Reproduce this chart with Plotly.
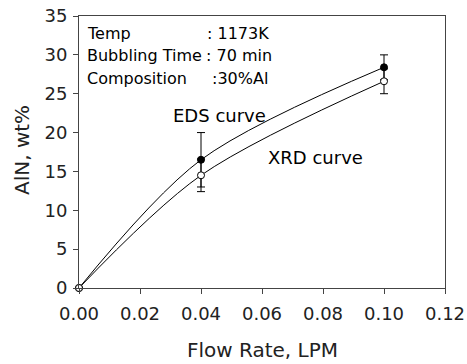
import plotly.graph_objects as go

flow = [0.0, 0.04, 0.10]
eds = [0.0, 16.5, 28.4]
eds_err = [0.0, 3.5, 1.6]
xrd = [0.0, 14.5, 26.6]
xrd_err = [0.0, 2.1, 1.6]
x_ticks = [0.0, 0.02, 0.04, 0.06, 0.08, 0.10, 0.12]
y_ticks = [0, 5, 10, 15, 20, 25, 30, 35]
info_labels = ["Temp", "Bubbling Time", "Composition"]
info_values = [": 1173K", ": 70 min", ":30%Al"]
info_value_x = [0.0413, 0.0410, 0.0431]
x_title = "Flow Rate, LPM"
y_title = "AlN, wt%"

FONT = "DejaVu Sans, sans-serif"
fig = go.Figure()

fig.add_trace(go.Scatter(
    x=flow, y=eds, mode="lines+markers", cliponaxis=False,
    line=dict(color="black", width=1, shape="spline", smoothing=0.9),
    marker=dict(symbol="circle", size=7, color="black", line=dict(color="black", width=1)),
    error_y=dict(type="data", array=eds_err, color="black", thickness=1, width=4),
    showlegend=False))
fig.add_trace(go.Scatter(
    x=flow, y=xrd, mode="lines+markers", cliponaxis=False,
    line=dict(color="black", width=1, shape="spline", smoothing=0.9),
    marker=dict(symbol="circle", size=7, color="white", line=dict(color="black", width=1)),
    error_y=dict(type="data", array=xrd_err, color="black", thickness=1, width=4),
    showlegend=False))

annos = []
rows_y = [32.7, 29.9, 26.95]
for lab, val, vx, yy in zip(info_labels, info_values, info_value_x, rows_y):
    annos.append(dict(x=0.0019, y=yy, text=lab, showarrow=False, xanchor="left", yanchor="middle",
                      font=dict(family=FONT, size=16, color="black")))
    annos.append(dict(x=vx, y=yy, text=val, showarrow=False, xanchor="left", yanchor="middle",
                      font=dict(family=FONT, size=16, color="black")))
annos.append(dict(x=0.0462, y=22.2, text="EDS curve", showarrow=False, xanchor="center", yanchor="middle",
                  font=dict(family=FONT, size=18, color="black")))
annos.append(dict(x=0.0776, y=16.8, text="XRD curve", showarrow=False, xanchor="center", yanchor="middle",
                  font=dict(family=FONT, size=18, color="black")))
annos.append(dict(xref="paper", yref="paper", x=0.5, y=-0.228, text=x_title, showarrow=False,
                  xanchor="center", yanchor="middle", font=dict(family=FONT, size=20, color="#222")))
annos.append(dict(xref="paper", yref="paper", x=-0.156, y=0.507, text=y_title, showarrow=False,
                  textangle=-90, xanchor="center", yanchor="middle",
                  font=dict(family=FONT, size=20, color="#222")))

fig.update_layout(
    template="none",
    width=467, height=364, margin=dict(l=79, r=22, t=16, b=76, autoexpand=False),
    paper_bgcolor="white", plot_bgcolor="white",
    font=dict(family=FONT, color="black"),
    annotations=annos,
    xaxis=dict(range=[0, 0.12], tickvals=x_ticks, tickformat=".2f", ticks="outside", ticklen=5,
               automargin=False, ticklabelstandoff=4,
               tickcolor="#444", showline=True, linecolor="#444", linewidth=1, mirror=True,
               showgrid=False, zeroline=False, tickfont=dict(size=18, family=FONT, color="#222")),
    yaxis=dict(range=[0, 35], tickvals=y_ticks, ticks="outside", ticklen=5,
               automargin=False, ticklabelstandoff=2,
               tickcolor="#444", showline=True, linecolor="#444", linewidth=1, mirror=True,
               showgrid=False, zeroline=False, tickfont=dict(size=18, family=FONT, color="#222")),
)

fig.write_html("out.html")
